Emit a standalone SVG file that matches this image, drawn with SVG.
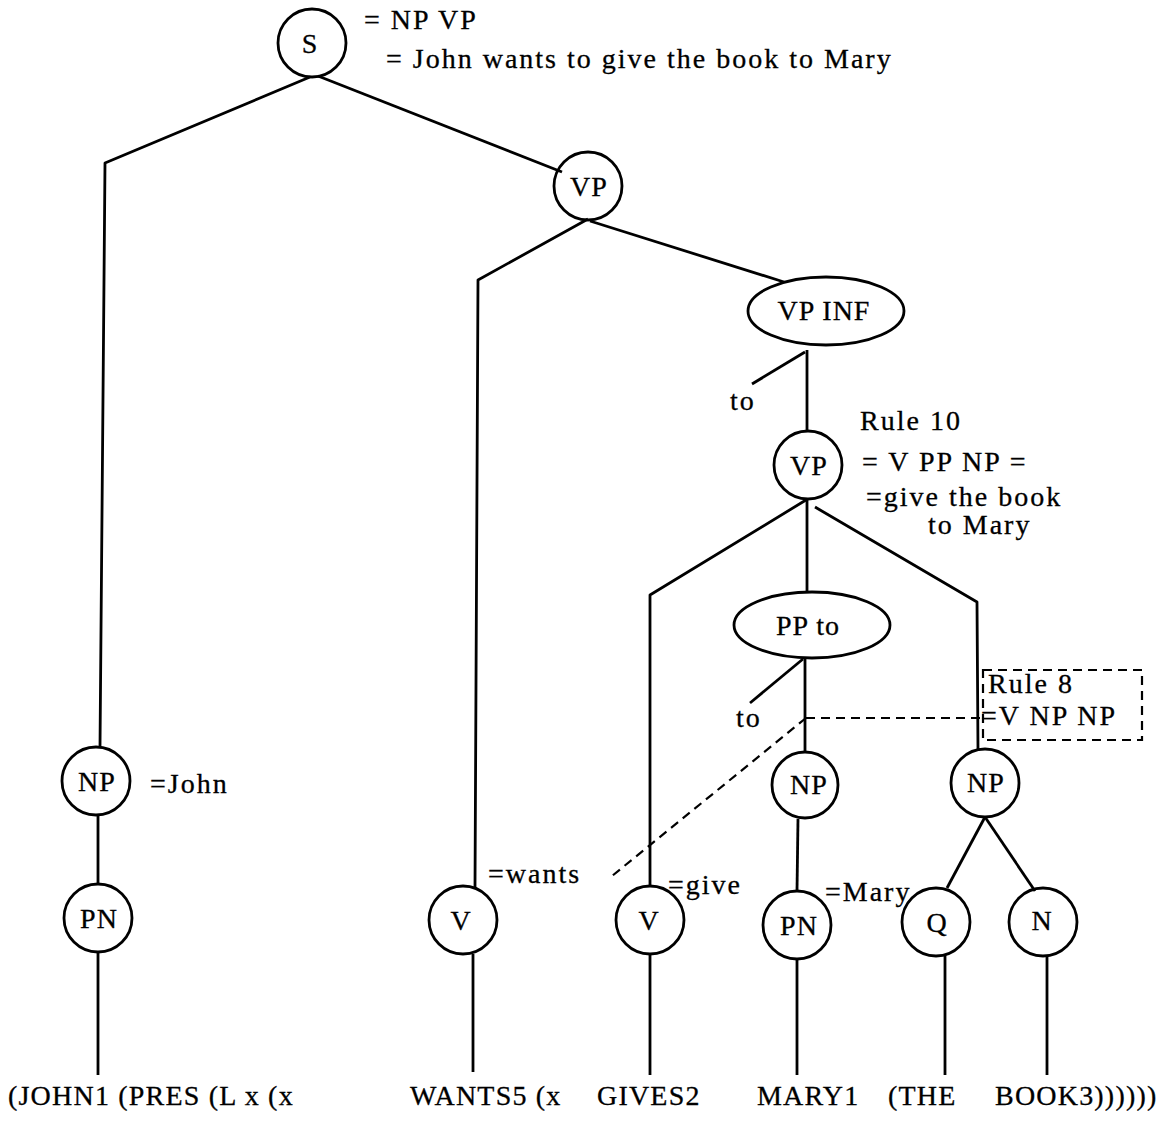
<svg xmlns="http://www.w3.org/2000/svg" width="1164" height="1121" viewBox="0 0 1164 1121">
  <style>
    .n { fill: none; stroke: #000; stroke-width: 2.8; }
    .e { fill: none; stroke: #000; stroke-width: 2.8; stroke-linejoin: round; }
    .d { fill: none; stroke: #000; stroke-width: 2.2; stroke-dasharray: 9 6; }
    text { font-family: "Liberation Serif", "Times New Roman", serif; font-size: 28px; fill: #000; stroke: #000; stroke-width: 0.3; }
    .c { text-anchor: middle; letter-spacing: 1px; }
    .ann { font-size: 28px; letter-spacing: 2px; }
    .lf { font-size: 28px; letter-spacing: 1.2px; }
  </style>
  <rect width="1164" height="1121" fill="#fff"/>

  <!-- tree edges -->
  <g id="connectors">
    <polyline class="e" points="310,77 105,163 100,748"/>
    <line class="e" x1="318" y1="76" x2="562" y2="172"/>
    <polyline class="e" points="588,219 478,280 475,887"/>
    <line class="e" x1="590" y1="221" x2="784" y2="282"/>
    <line class="e" x1="807" y1="350" x2="807" y2="431"/>
    <line class="e" x1="805" y1="352" x2="752" y2="384"/>
    <polyline class="e" points="806,500 650,595 650,887"/>
    <line class="e" x1="807" y1="500" x2="807" y2="593"/>
    <polyline class="e" points="815,507 977,602 978,751"/>
    <line class="e" x1="805" y1="657" x2="805" y2="752"/>
    <line class="e" x1="803" y1="659" x2="750" y2="703"/>
    <line class="e" x1="798" y1="819" x2="797" y2="891"/>
    <line class="e" x1="985" y1="817" x2="947" y2="888"/>
    <line class="e" x1="985" y1="817" x2="1035" y2="891"/>
    <line class="e" x1="98" y1="814" x2="98" y2="884"/>
    <line class="e" x1="98" y1="952" x2="98" y2="1075"/>
    <line class="e" x1="473" y1="954" x2="473" y2="1072"/>
    <line class="e" x1="650" y1="954" x2="650" y2="1075"/>
    <line class="e" x1="797" y1="958" x2="797" y2="1075"/>
    <line class="e" x1="945" y1="955" x2="945" y2="1075"/>
    <line class="e" x1="1047" y1="955" x2="1047" y2="1075"/>
    <!-- dashed link to Rule 8 -->
    <line class="d" x1="806" y1="718" x2="982" y2="718"/>
    <line class="d" x1="806" y1="718" x2="612" y2="876"/>
  </g>

  <g id="node-S">
    <circle class="n" cx="312" cy="43" r="34"/>
    <text class="c" x="310" y="53">S</text>
    <text class="ann" x="364" y="29">= NP VP</text>
    <text class="ann" x="386" y="68">= John wants to give the book to Mary</text>
  </g>
  <g id="node-VP1">
    <circle class="n" cx="588" cy="186" r="34"/>
    <text class="c" x="589" y="196">VP</text>
  </g>
  <g id="node-VPINF">
    <ellipse class="n" cx="826" cy="311" rx="78" ry="34"/>
    <text class="c" x="824" y="320">VP INF</text>
    <text class="ann" x="730" y="410">to</text>
  </g>
  <g id="node-VP2">
    <circle class="n" cx="808" cy="465" r="34"/>
    <text class="c" x="809" y="475">VP</text>
    <text class="ann" x="860" y="430">Rule 10</text>
    <text class="ann" x="862" y="471">= V PP NP =</text>
    <text class="ann" x="866" y="506">=give the book</text>
    <text class="ann" x="928" y="534">to Mary</text>
  </g>
  <g id="node-PPto">
    <ellipse class="n" cx="812" cy="625" rx="78" ry="33"/>
    <text class="c" x="808" y="635">PP to</text>
    <text class="ann" x="736" y="727">to</text>
  </g>
  <g id="rule8">
    <rect class="d" x="983" y="670" width="159" height="70"/>
    <text class="ann" x="988" y="693">Rule 8</text>
    <text class="ann" x="981" y="725">=V NP NP</text>
  </g>
  <g id="node-NP-john">
    <circle class="n" cx="96" cy="781" r="34"/>
    <text class="c" x="97" y="791">NP</text>
    <text class="ann" x="150" y="793">=John</text>
  </g>
  <g id="node-PN-john">
    <circle class="n" cx="98" cy="918" r="34"/>
    <text class="c" x="99" y="928">PN</text>
  </g>
  <g id="node-V-wants">
    <circle class="n" cx="463" cy="920" r="34"/>
    <text class="c" x="461" y="930">V</text>
    <text class="ann" x="488" y="883">=wants</text>
  </g>
  <g id="node-V-give">
    <circle class="n" cx="650" cy="920" r="34"/>
    <text class="c" x="649" y="930">V</text>
    <text class="ann" x="668" y="894">=give</text>
  </g>
  <g id="node-NP-mary">
    <circle class="n" cx="805" cy="785" r="33"/>
    <text class="c" x="809" y="794">NP</text>
  </g>
  <g id="node-PN-mary">
    <circle class="n" cx="797" cy="925" r="34"/>
    <text class="c" x="799" y="935">PN</text>
    <text class="ann" x="825" y="901">=Mary</text>
  </g>
  <g id="node-NP-book">
    <circle class="n" cx="985" cy="783" r="34"/>
    <text class="c" x="986" y="792">NP</text>
  </g>
  <g id="node-Q">
    <circle class="n" cx="936" cy="922" r="34"/>
    <text class="c" x="937" y="932">Q</text>
  </g>
  <g id="node-N">
    <circle class="n" cx="1043" cy="922" r="34"/>
    <text class="c" x="1042" y="930">N</text>
  </g>

  <!-- logical form along the bottom -->
  <g id="logical-form">
    <text class="lf" x="8" y="1105">(JOHN1 (PRES (L x (x</text>
    <text class="lf" x="410" y="1105">WANTS5  (x</text>
    <text class="lf" x="597" y="1105">GIVES2</text>
    <text class="lf" x="757" y="1105">MARY1</text>
    <text class="lf" x="888" y="1105">(THE</text>
    <text class="lf" x="995" y="1105">BOOK3))))))</text>
  </g>
</svg>
